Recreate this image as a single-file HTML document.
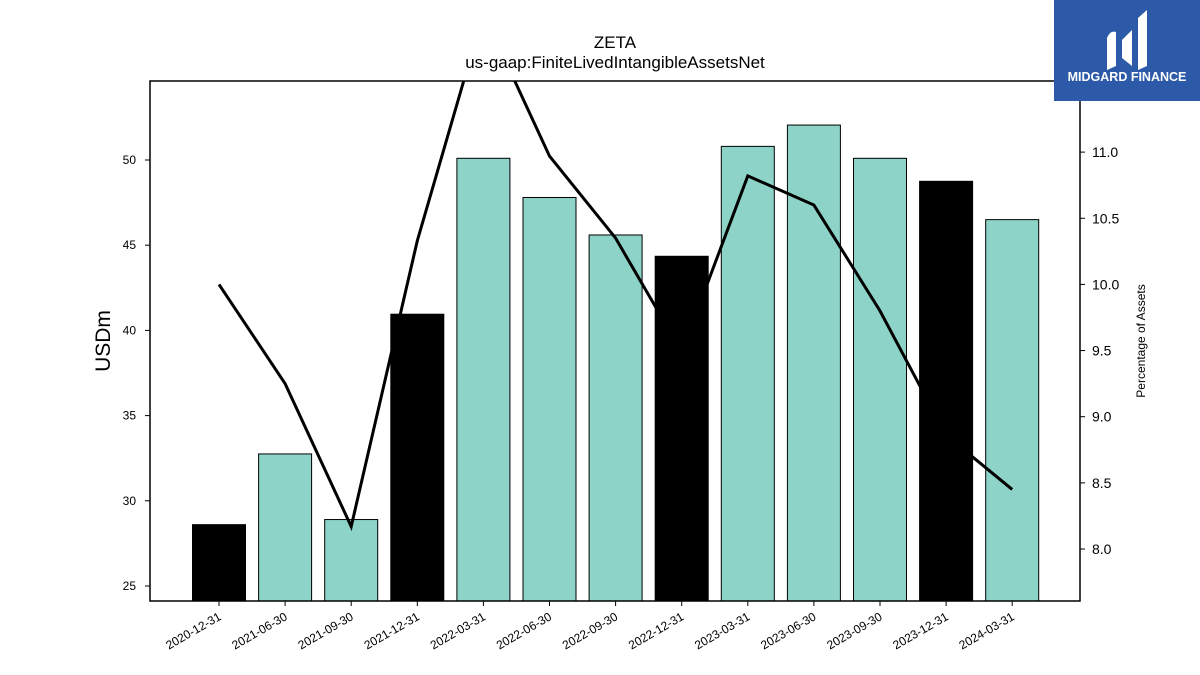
<!DOCTYPE html>
<html><head><meta charset="utf-8"><style>
body{margin:0;background:#fff;}
svg{display:block;font-family:"Liberation Sans","DejaVu Sans",sans-serif;}
</style></head><body>
<svg id="chart" width="1200" height="675" viewBox="0 0 1200 675">
<text x="615" y="48" text-anchor="middle" font-size="17">ZETA</text>
<text x="615" y="68" text-anchor="middle" font-size="17">us-gaap:FiniteLivedIntangibleAssetsNet</text>
<g id="bars"></g>
<g id="line"></g>
<rect x="150" y="81" width="930" height="520" fill="none" stroke="#000" stroke-width="1.5"/>
<g id="axes"></g>
<text x="0" y="0" transform="translate(110,341) rotate(-90)" text-anchor="middle" font-size="21">USDm</text>
<text x="0" y="0" transform="translate(1145,341) rotate(-90)" text-anchor="middle" font-size="12">Percentage of Assets</text>
<g>
<rect x="1054" y="0" width="146" height="101" fill="#2c5aa9"/>
<path d="M1107 70 L1107 38 Q1110 30 1116 32 L1116 66 Z M1122 58 L1122 40 L1132 30 L1132 66 Z M1138 70 L1138 18 L1147 10 L1147 66 Z" fill="#fff"/>
<text x="1127" y="81" text-anchor="middle" font-size="12.5" font-weight="bold" fill="#fff">MIDGARD FINANCE</text>
</g>
</svg>
<script>
const categories=["2020-12-31","2021-06-30","2021-09-30","2021-12-31","2022-03-31","2022-06-30","2022-09-30","2022-12-31","2023-03-31","2023-06-30","2023-09-30","2023-12-31","2024-03-31"];
const barValues=[28.6,32.75,28.9,40.95,50.1,47.8,45.6,44.35,50.8,52.05,50.1,48.75,46.5];
const pctValues=[10.0,9.25,8.17,10.33,12.05,10.97,10.35,9.49,10.82,10.6,9.8,8.86,8.45];
const leftTicks=[25,30,35,40,45,50];
const rightTicks=[8.0,8.5,9.0,9.5,10.0,10.5,11.0];
const NS="http://www.w3.org/2000/svg";
const yL=v=>586-(v-25)*17.04;
const yR=v=>549-(v-8)*132.3;
const xC=i=>219+i*66.1;
const mk=(t,a,p)=>{const e=document.createElementNS(NS,t);for(const k in a)e.setAttribute(k,a[k]);p.appendChild(e);return e;};
const bars=document.getElementById('bars'),line=document.getElementById('line'),axes=document.getElementById('axes');
barValues.forEach((v,i)=>{
 const dark=categories[i].endsWith('12-31');
 const r=mk('rect',{x:xC(i)-26.5,y:yL(v),width:53,height:601-yL(v),fill:dark?'#000':'#8dd3c7',stroke:'#000','stroke-width':1},bars);
 
 
});
const pts=pctValues.map((v,i)=>xC(i)+','+yR(v)).join(' ');
mk('clipPath',{id:'clip'},line);
mk('rect',{x:150,y:81,width:930,height:520},document.getElementById('clip'));
const pl=mk('polyline',{points:pts,fill:'none',stroke:'#000','stroke-width':3,'clip-path':'url(#clip)'},line);


leftTicks.forEach(v=>{
 mk('line',{x1:145,x2:150,y1:yL(v),y2:yL(v),stroke:'#000'},axes);
 const t=mk('text',{x:136,y:yL(v)+4,'text-anchor':'end','font-size':12},axes);t.textContent=v;
 
 
});
rightTicks.forEach(v=>{
 mk('line',{x1:1080,x2:1085,y1:yR(v),y2:yR(v),stroke:'#000'},axes);
 const t=mk('text',{x:1092,y:yR(v)+5,'font-size':14},axes);t.textContent=v.toFixed(1);
 
 
});
categories.forEach((c,i)=>{
 mk('line',{x1:xC(i),x2:xC(i),y1:601,y2:606,stroke:'#000'},axes);
 const t=mk('text',{x:0,y:0,transform:`translate(${xC(i)+3},${619}) rotate(-30)`,'text-anchor':'end','font-size':12},axes);t.textContent=c;
 
 
});
</script>
</body></html>
